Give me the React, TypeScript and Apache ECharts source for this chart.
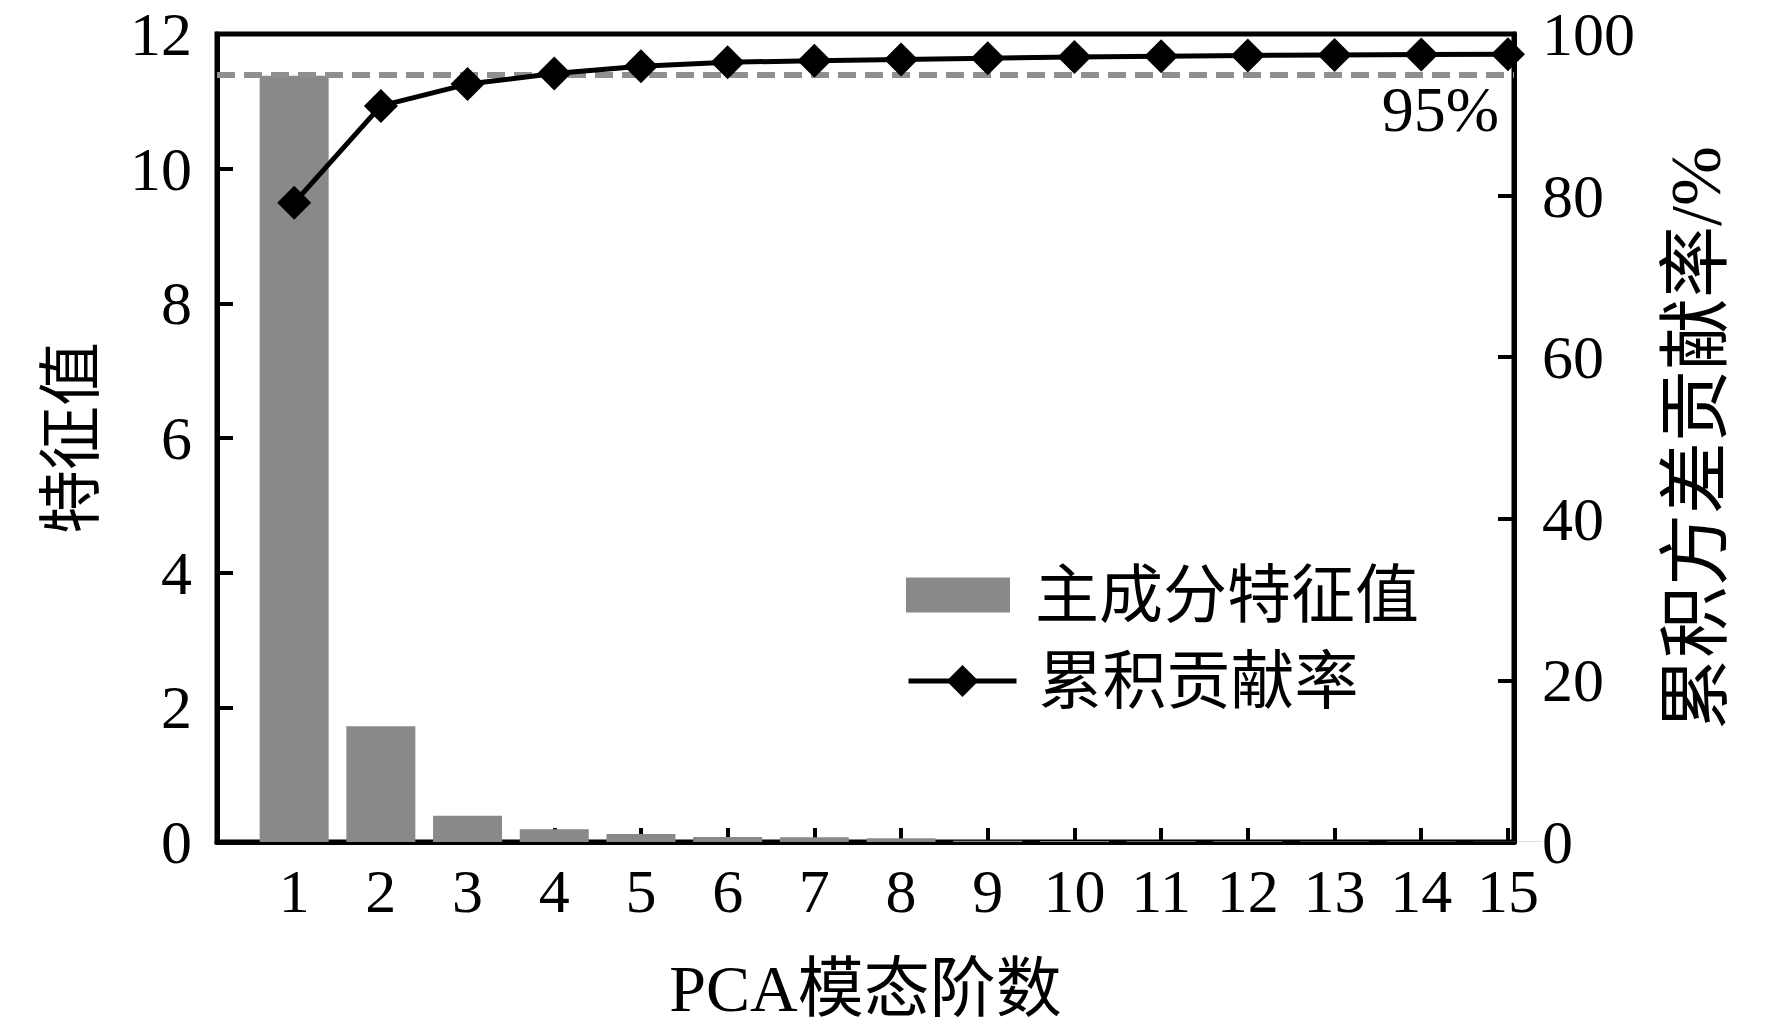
import React, { useEffect, useRef } from "react";
import * as echarts from "echarts";

// ---- data ----
const modes = [1, 2, 3, 4, 5, 6, 7, 8, 9, 10, 11, 12, 13, 14, 15];
const eigenvalues = [11.38, 1.72, 0.39, 0.19, 0.12, 0.075, 0.07, 0.055, 0.02, 0.015, 0.012, 0.01, 0.008, 0.006, 0.005];
const cumulative = [79.1, 91.1, 93.8, 95.1, 96.0, 96.5, 96.7, 96.85, 97.0, 97.15, 97.25, 97.35, 97.4, 97.45, 97.5];
const threshold = 95;
const barName = "主成分特征值";
const lineName = "累积贡献率";
const xName = "PCA模态阶数";
const yLeftName = "特征值";
const yRightName = "累积方差贡献率/%";

const FONT = "'Liberation Serif', 'Noto Sans CJK SC', serif";

export default function App() {
  const ref = useRef<HTMLDivElement>(null);
  useEffect(() => {
    if (!ref.current) return;
    const chart = echarts.init(ref.current, null, { renderer: "svg" });
    const axisLine = { show: true, lineStyle: { color: "#000", width: 5 } };
    chart.setOption({
      animation: false,
      backgroundColor: "#fff",
      grid: {
        left: 217,
        right: 258,
        top: 34,
        bottom: 186,
        show: true,
        borderColor: "#000",
        borderWidth: 5,
      },
      legend: [
        {
          data: [{ name: barName, icon: "rect" }],
          left: 901,
          top: 558,
          itemWidth: 104,
          itemHeight: 35,
          selectedMode: false,
          textStyle: { fontFamily: FONT, fontSize: 64, color: "#000", lineHeight: 64, padding: [0, 0, 0, 20] },
        },
        {
          data: [{ name: lineName }],
          left: 901,
          top: 644,
          itemWidth: 108,
          itemHeight: 40,
          selectedMode: false,
          lineStyle: { color: "#000", width: 5 },
          itemStyle: { color: "#000" },
          textStyle: { fontFamily: FONT, fontSize: 64, color: "#000", lineHeight: 64, padding: [0, 0, 0, 17] },
        },
      ],
      xAxis: {
        type: "value",
        min: 0.11,
        max: 15.07,
        name: xName,
        nameLocation: "middle",
        nameGap: 113,
        nameTextStyle: { fontFamily: FONT, fontSize: 66, color: "#000" },
        axisLine,
        axisTick: { show: true, inside: true, length: 14, lineStyle: { color: "#000", width: 4 }, customValues: modes },
        axisLabel: {
          customValues: modes,
          fontFamily: FONT,
          fontSize: 62,
          color: "#000",
          margin: 18,
          formatter: (v: number) => String(Math.round(v)),
        },
        splitLine: { show: false },
      },
      yAxis: [
        {
          type: "value",
          min: 0,
          max: 12,
          interval: 2,
          position: "left",
          name: yLeftName,
          nameLocation: "middle",
          nameGap: 114,
          nameTextStyle: { fontFamily: FONT, fontSize: 64, color: "#000" },
          axisLine,
          axisTick: { show: true, inside: true, length: 16, lineStyle: { color: "#000", width: 4 } },
          axisLabel: { fontFamily: FONT, fontSize: 62, color: "#000", margin: 25 },
          splitLine: { show: false },
        },
        {
          type: "value",
          min: 0,
          max: 100,
          interval: 20,
          position: "right",
          name: yRightName,
          nameLocation: "middle",
          nameGap: 146,
          nameTextStyle: { fontFamily: FONT, fontSize: 72, color: "#000" },
          axisLine,
          axisTick: { show: true, inside: true, length: 16, lineStyle: { color: "#000", width: 4 } },
          axisLabel: { fontFamily: FONT, fontSize: 62, color: "#000", margin: 28 },
          splitLine: { show: false },
        },
      ],
      series: [
        {
          name: barName,
          type: "bar",
          xAxisIndex: 0,
          yAxisIndex: 0,
          barWidth: 69,
          itemStyle: { color: "#898989" },
          data: modes.map((m, i) => [m, eigenvalues[i]]),
          z: 1,
        },
        {
          name: lineName,
          type: "line",
          xAxisIndex: 0,
          yAxisIndex: 1,
          symbol: "diamond",
          symbolSize: 34,
          clip: false,
          lineStyle: { color: "#000", width: 5 },
          itemStyle: { color: "#000" },
          data: modes.map((m, i) => [m, cumulative[i]]),
          z: 4,
          markLine: {
            silent: true,
            symbol: "none",
            z: 3,
            lineStyle: { type: [18, 9], color: "#8f8f8f", width: 6 },
            label: {
              show: true,
              position: "insideEndBottom",
              formatter: `${threshold}%`,
              fontFamily: FONT,
              fontSize: 64,
              color: "#000",
              distance: [15, 3],
            },
            data: [{ yAxis: threshold }],
          },
        },
      ],
    });
    return () => chart.dispose();
  }, []);
  return (
    <div
      ref={ref}
      style={{ position: "fixed", left: 0, top: 0, width: 1772, height: 1028, background: "#fff" }}
    />
  );
}
